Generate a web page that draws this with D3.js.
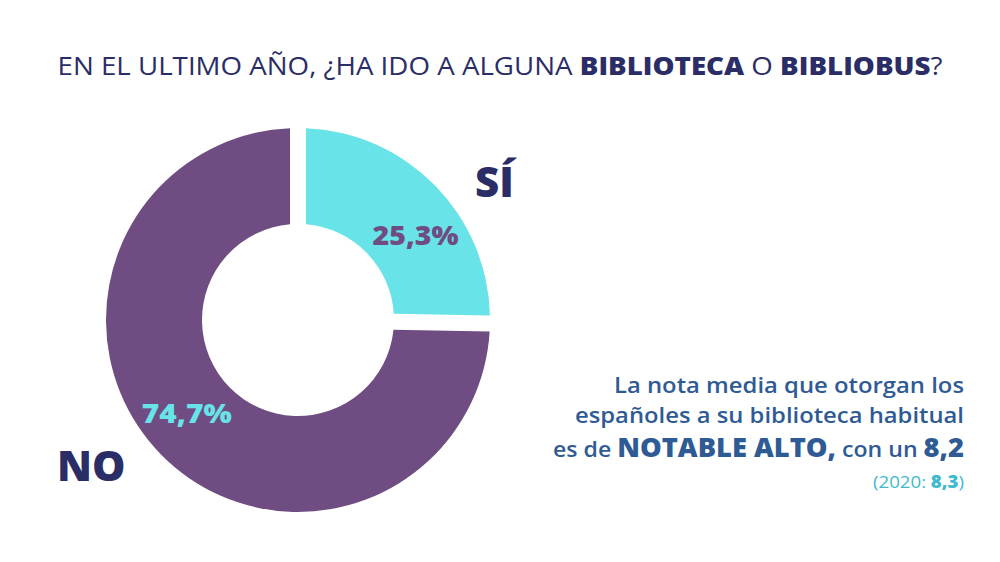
<!DOCTYPE html>
<html><head><meta charset="utf-8">
<script src="https://cdn.jsdelivr.net/npm/d3@7"></script>
<style>
html,body{margin:0;padding:0;background:#fff;}
svg{display:block;}
</style></head>
<body>
<svg id="chart" width="1000" height="562"></svg>
<script>
const categories = ["SÍ", "NO"];
const values = [25.3, 74.7];
const valueLabels = ["25,3%", "74,7%"];
const sliceColors = ["#68e3e7", "#6f4c82"];
const labelColors = ["#6f4c82", "#68e3e7"];
const titleParts = [
  {t: "EN EL ULTIMO AÑO, ¿HA IDO A ALGUNA ", b: false},
  {t: "BIBLIOTECA", b: true},
  {t: " O ", b: false},
  {t: "BIBLIOBUS", b: true},
  {t: "?", b: false}
];

const svg = d3.select("#chart");
const navy = "#2b2d66";
const blue = "#2f5b95";
const cyanText = "#3fb9cc";

// Title
const title = svg.append("text")
  .attr("x", 500).attr("y", 75)
  .attr("text-anchor", "middle")
  .attr("font-family", "'Open Sans', sans-serif")
  .attr("font-size", 25)
  .attr("fill", navy)
  .attr("textLength", 885)
  .attr("lengthAdjust", "spacingAndGlyphs");
title.selectAll("tspan").data(titleParts).join("tspan")
  .attr("font-weight", d => d.b ? 800 : 500)
  .text(d => d.t);

// Donut
const cx = 298, cy = 320, R = 192, r = 96;
const pie = d3.pie().sort(null).value(d => d)(values);
const arc = d3.arc().innerRadius(r).outerRadius(R).padAngle(16 / R).padRadius(R);
const g = svg.append("g").attr("transform", `translate(${cx},${cy})`);
g.selectAll("path").data(pie).join("path")
  .attr("d", arc)
  .attr("fill", (d, i) => sliceColors[i]);

// value labels
const angleShift = [0.15, 0.08];
g.selectAll("text.val").data(pie).join("text")
  .attr("class", "val")
  .attr("text-anchor", "middle")
  .attr("font-family", "'Open Sans', sans-serif")
  .attr("font-weight", 800)
  .attr("font-size", 27)
  .attr("fill", (d, i) => labelColors[i])
  .attr("x", (d, i) => Math.sin((d.startAngle + d.endAngle) / 2 + angleShift[i]) * 145)
  .attr("y", (d, i) => -Math.cos((d.startAngle + d.endAngle) / 2 + angleShift[i]) * 145 + 10)
  .attr("textLength", (d, i) => i === 0 ? 86 : 90)
  .attr("lengthAdjust", "spacingAndGlyphs")
  .text((d, i) => valueLabels[i]);

// category labels
const catPos = [{x: 475, y: 197}, {x: 57, y: 481}];
svg.selectAll("text.cat").data(categories).join("text")
  .attr("class", "cat")
  .attr("x", (d, i) => catPos[i].x)
  .attr("y", (d, i) => catPos[i].y)
  .attr("font-family", "'Open Sans', sans-serif")
  .attr("font-weight", 800)
  .attr("font-size", 42)
  .attr("fill", navy)
  .text(d => d);

// Right text
const rx = 964;
const ff = "'Open Sans', sans-serif";
svg.append("text").attr("x", rx).attr("y", 393).attr("text-anchor", "end")
  .attr("font-family", ff).attr("font-size", 22).attr("font-weight", 600).attr("fill", blue)
  .attr("textLength", 350).attr("lengthAdjust", "spacingAndGlyphs")
  .text("La nota media que otorgan los");
svg.append("text").attr("x", rx).attr("y", 423).attr("text-anchor", "end")
  .attr("font-family", ff).attr("font-size", 22).attr("font-weight", 600).attr("fill", blue)
  .attr("textLength", 389).attr("lengthAdjust", "spacingAndGlyphs")
  .text("españoles a su biblioteca habitual");
const l3 = svg.append("text").attr("x", rx).attr("y", 457).attr("text-anchor", "end")
  .attr("font-family", ff).attr("font-size", 22).attr("font-weight", 600).attr("fill", blue)
  .attr("textLength", 411).attr("lengthAdjust", "spacingAndGlyphs");
l3.append("tspan").text("es de ");
l3.append("tspan").attr("font-size", 26).attr("font-weight", 800).text("NOTABLE ALTO,");
l3.append("tspan").text(" con un ");
l3.append("tspan").attr("font-size", 26).attr("font-weight", 800).text("8,2");
const l4 = svg.append("text").attr("x", rx).attr("y", 488).attr("text-anchor", "end")
  .attr("font-family", ff).attr("font-size", 17).attr("fill", cyanText)
  .attr("textLength", 91).attr("lengthAdjust", "spacingAndGlyphs");
l4.append("tspan").text("(2020: ");
l4.append("tspan").attr("font-weight", 800).text("8,3");
l4.append("tspan").text(")");
</script>
</body></html>
